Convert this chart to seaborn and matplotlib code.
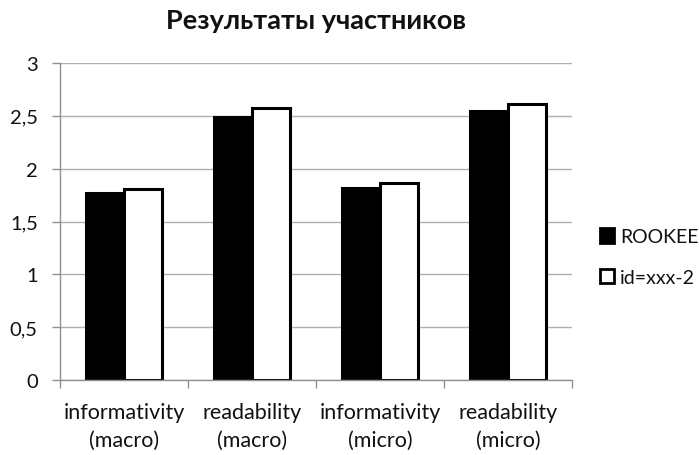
import matplotlib
matplotlib.use("Agg")
import matplotlib.pyplot as plt
import seaborn as sns
import pandas as pd
import numpy as np
from matplotlib.patches import Patch

categories = ["informativity\n(macro)", "readability\n(macro)", "informativity\n(micro)", "readability\n(micro)"]
series_names = ["ROOKEE", "id=xxx-2"]
rookee = [1.77, 2.49, 1.82, 2.55]
idxxx = [1.81, 2.57, 1.86, 2.61]
yticks = [0, 0.5, 1, 1.5, 2, 2.5, 3]
ytick_labels = ["0", "0,5", "1", "1,5", "2", "2,5", "3"]
title = "Результаты участников"

df = pd.DataFrame({
    "cat": categories * 2,
    "series": [series_names[0]] * 4 + [series_names[1]] * 4,
    "value": rookee + idxxx,
})

sns.set_theme(style="white")
plt.rcParams['font.family'] = ['Lato', 'DejaVu Sans']

fig = plt.figure(figsize=(6.99, 4.56), dpi=100)
ax = fig.add_axes([60/699, 1-381/456, 512/699, 317/456])

sns.barplot(data=df, x="cat", y="value", hue="series", order=categories,
            hue_order=series_names, palette=["black", "white"],
            edgecolor="black", linewidth=2.2, width=0.586, ax=ax, legend=False)

ax.set_ylim(0, 3)
ax.set_xlim(-0.5, 3.5)
ax.set_yticks(yticks)
ax.set_yticklabels(ytick_labels, fontsize=14.5, color="#111111")
ax.yaxis.grid(True, color="#b0b0b0", linewidth=1)
ax.set_axisbelow(True)
ax.set_xlabel("")
ax.set_ylabel("")
ax.set_xticks(range(len(categories)))
ax.set_xticklabels(categories, linespacing=1.45, fontsize=15.5, color="#111111")
ax.tick_params(axis="x", which="major", length=0, pad=16)
ax.set_xticks(np.arange(-0.5, 4.0, 1.0), minor=True)
ax.tick_params(axis="x", which="minor", length=6, color="#909090", width=1, bottom=True)
ax.tick_params(axis="y", length=6, color="#909090", width=1, left=True, pad=10)
for s in ["top", "right"]:
    ax.spines[s].set_visible(False)
for s in ["left", "bottom"]:
    ax.spines[s].set_color("#909090")
    ax.spines[s].set_linewidth(1)

ax.set_title(title, fontsize=19.5, fontweight="bold", pad=25, color="#111111")

handles = [Patch(facecolor="black", edgecolor="black", linewidth=2),
           Patch(facecolor="white", edgecolor="black", linewidth=2)]
fig.legend(handles, series_names, loc="center left", bbox_to_anchor=(590/699, 1-258/456),
           frameon=False, fontsize=14, handlelength=0.75, handleheight=0.75,
           handletextpad=0.3, labelspacing=1.2, borderpad=0, labelcolor="#111111")

fig.savefig("out.png", dpi=100)
